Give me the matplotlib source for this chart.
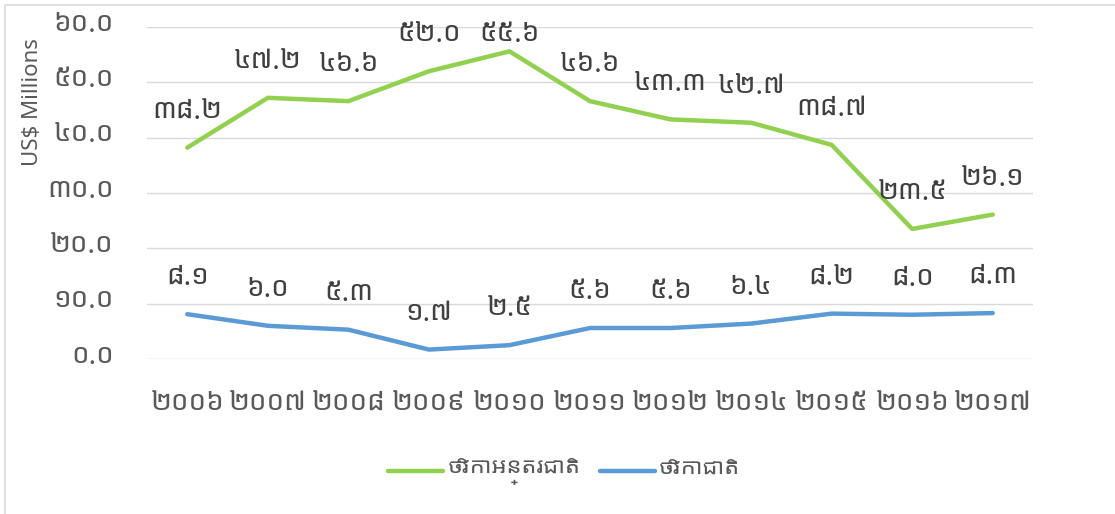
import matplotlib
matplotlib.use("Agg")
import matplotlib.pyplot as plt
from matplotlib.patches import Rectangle

# data (US$ millions)
years = ["២០០៦", "២០០៧", "២០០៨", "២០០៩", "២០១០", "២០១១", "២០១២", "២០១៤", "២០១៥", "២០១៦", "២០១៧"]
intl = [38.2, 47.2, 46.6, 52.0, 55.6, 46.6, 43.3, 42.7, 38.7, 23.5, 26.1]
natl = [8.1, 6.0, 5.3, 1.7, 2.5, 5.6, 5.6, 6.4, 8.2, 8.0, 8.3]
series_names = ["ថវិកាអន្តរជាតិ", "ថវិកាជាតិ"]
yticks = [0, 10, 20, 30, 40, 50, 60]

khmer_digits = "០១២៣៤៥៦៧៨៩"


def to_khmer(s):
    return "".join(khmer_digits[int(c)] if c.isdigit() else c for c in s)


plt.rcParams['font.family'] = ['Noto Sans Khmer UI', 'Noto Sans', 'DejaVu Sans']
text_col = '#595959'

fig = plt.figure(figsize=(11.15, 5.14), dpi=100)
ax = fig.add_axes([147 / 1115, 1 - 359 / 514, 886 / 1115, 332 / 514])

x = list(range(len(years)))
green, = ax.plot(x, intl, color='#92D050', lw=3.2, solid_capstyle='round', solid_joinstyle='round')
blue, = ax.plot(x, natl, color='#5B9BD5', lw=3.2, solid_capstyle='round', solid_joinstyle='round')

# data labels above the points
for vals in (intl, natl):
    for xi, v in zip(x, vals):
        ly = min(v + 5.4, 57.4)
        ax.text(xi, ly, to_khmer(f"{v:.1f}"), ha='center', va='center',
                fontsize=20, color='#404040')

ax.set_xlim(-0.5, len(years) - 0.5)
ax.set_ylim(0, 60)
ax.set_yticks(yticks)
ax.set_yticklabels([to_khmer(f"{t:.1f}") for t in yticks])
ax.set_xticks(x)
ax.set_xticklabels(years)
ax.tick_params(axis='both', length=0, labelsize=20, labelcolor=text_col)
ax.tick_params(axis='y', pad=24)
ax.tick_params(axis='x', pad=27)
ax.grid(axis='y', color='#d9d9d9', lw=1)
ax.set_axisbelow(True)
for s in ax.spines.values():
    s.set_visible(False)

fig.text(32 / 1115, 1 - 102 / 514, "US$ Millions", rotation=90, ha='center', va='center',
         fontsize=16, color=text_col, family=['Noto Sans', 'DejaVu Sans'])

fig.legend([green, blue], series_names, loc='center', bbox_to_anchor=(0.506, 0.082),
           ncol=2, frameon=False, fontsize=17, labelcolor=text_col,
           handlelength=2.33, handletextpad=0.2, columnspacing=0.8)

# chart border (top and left edges visible)
fig.add_artist(Rectangle((5 / 1115, -0.5), 2, 1.5 - 5 / 514, transform=fig.transFigure,
                         fill=False, edgecolor='#d9d9d9', lw=1.2))

fig.savefig("out.png", dpi=100)
